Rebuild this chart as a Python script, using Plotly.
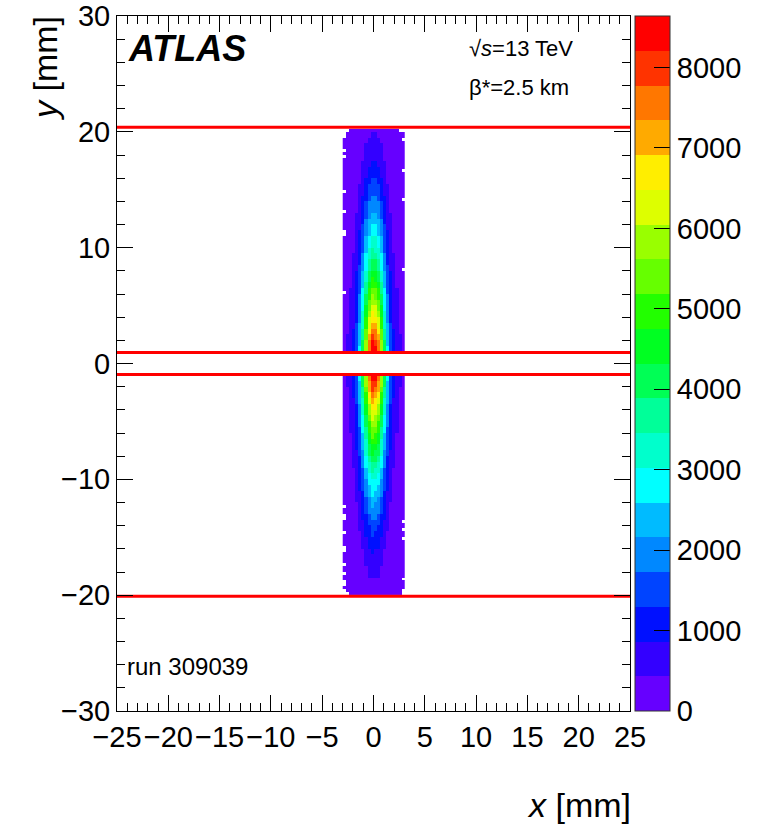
import numpy as np
import plotly.graph_objects as go

# ---------------- data ----------------
# x bins (0.3 mm), bin centres
x_centres = [-2.85, -2.55, -2.25, -1.95, -1.65, -1.35, -1.05, -0.75, -0.45, -0.15,
             0.15, 0.45, 0.75, 1.05, 1.35, 1.65, 1.95, 2.25, 2.55, 2.85]
# relative horizontal profile of the beam spot (per x bin)
x_profile = [0.04, 0.055, 0.08, 0.12, 0.19, 0.31, 0.48, 0.70, 0.89, 1.0,
             0.98, 0.89, 0.70, 0.48, 0.31, 0.19, 0.12, 0.08, 0.055, 0.04]

# y bins of 0.25 mm; peak counts read per 0.5 mm band
y_bin = 0.25
upper_y_start = 1.0          # upper detector: 1.0 .. 20.25 mm
upper_peak = [8600, 8300, 7900, 7500, 7100, 6800, 6500, 6200, 6000, 5700,
              5400, 5100, 4800, 4600, 4300, 4000, 3800, 3500, 3300, 3100,
              2900, 2700, 2500, 2300, 2100, 1950, 1800, 1650, 1500, 1350,
              1200, 1080, 950, 830, 720, 620, 530, 450, 380]
upper_rows = 77
lower_y_start = -20.0        # lower detector: -20.0 .. -1.0 mm
lower_peak = [310, 360, 420, 490, 570, 660, 760, 880, 1000, 1150,
              1300, 1450, 1600, 1800, 2000, 2200, 2400, 2600, 2800, 3000,
              3300, 3500, 3800, 4100, 4400, 4600, 4900, 5200, 5500, 5800,
              6100, 6400, 6700, 7000, 7400, 7800, 8200, 8500]
lower_rows = 76

# empty (zero-count) bins at the ragged edges: (x centre, y centre)
empty_bins = [(-2.85, 20.125), (-2.55, 20.125), (2.55, 20.125), (2.85, 20.125),
              (-2.85, 19.875), (-2.85, 19.625), (2.85, 19.375),
              (-2.85, 18.375), (-2.85, 17.875), (-2.85, 14.875), (-2.85, 13.125),
              (-2.85, 11.375), (-2.85, 11.125), (-2.85, 6.125),
              (2.85, 14.125), (2.85, 8.125), (2.85, 16.625),
              (-2.85, -12.375), (-2.85, -13.125), (-2.85, -13.375), (-2.85, -14.625),
              (-2.85, -15.875), (-2.85, -16.125), (-2.85, -17.375), (-2.85, -18.125),
              (-2.85, -18.875), (-2.85, -19.125), (-2.85, -19.625), (-2.85, -19.875),
              (-2.55, -19.875), (2.85, -13.625), (2.85, -14.375), (2.85, -15.125),
              (2.85, -18.625), (2.85, -19.625), (2.85, -19.875)]

# detector edges (red lines), mm
edge_y = [20.4, 0.95, -0.95, -20.1]

# palette bands (20 contours)
palette = ["#6600ff", "#3300ff", "#0010ff", "#0044ff", "#0088ff", "#00bbff",
           "#00ffff", "#00ffcc", "#00ff99", "#00ff55", "#00ff22", "#22ff00",
           "#66ff00", "#99ff00", "#ddff00", "#ffee00", "#ffaa00", "#ff7700",
           "#ff3300", "#ff0000"]
z_max = 8640
cbar_ticks = [0, 1000, 2000, 3000, 4000, 5000, 6000, 7000, 8000]
x_ticks = [-25, -20, -15, -10, -5, 0, 5, 10, 15, 20, 25]
y_ticks = [-30, -20, -10, 0, 10, 20, 30]

# ---------------- build histogram grid ----------------
n_rows = int(round((upper_y_start + upper_rows * y_bin - lower_y_start) / y_bin))
y_centres = [lower_y_start + (i + 0.5) * y_bin for i in range(n_rows)]
z = np.full((n_rows, len(x_centres)), np.nan)
prof = np.array(x_profile)
for i in range(lower_rows):
    z[i, :] = lower_peak[i // 2] * prof
off = int(round((upper_y_start - lower_y_start) / y_bin))
for i in range(upper_rows):
    z[off + i, :] = upper_peak[i // 2] * prof
for (xe, ye) in empty_bins:
    ci = int(np.argmin(np.abs(np.array(x_centres) - xe)))
    ri = int(np.argmin(np.abs(np.array(y_centres) - ye)))
    z[ri, ci] = np.nan

cs = []
n = len(palette)
for k, c in enumerate(palette):
    cs.append([k / n, c])
    cs.append([(k + 1) / n, c])

W, H = 765, 827
L, R, T, B = 117, 135, 16, 116
pw, ph = W - L - R, H - T - B

fig = go.Figure()
fig.add_trace(go.Heatmap(
    x=x_centres, y=y_centres, z=z, zmin=0, zmax=z_max, colorscale=cs,
    zsmooth=False, hoverongaps=False,
    colorbar=dict(x=1 + 5 / pw, xanchor="left", xpad=0, y=0.5, yanchor="middle",
                  len=1, lenmode="fraction", ypad=0, thickness=35,
                  tickvals=cbar_ticks, ticks="inside", ticklen=16, tickcolor="black",
                  tickfont=dict(size=29, color="black", family="Liberation Sans"),
                  outlinewidth=1, outlinecolor="#333333")))

for yv in edge_y:
    fig.add_trace(go.Scatter(x=[-25, 25], y=[yv, yv], mode="lines",
                             line=dict(color="#ff0000", width=3), showlegend=False,
                             hoverinfo="skip"))

axis_common = dict(showline=True, linecolor="black", linewidth=1, mirror="ticks",
                   ticks="inside", tickcolor="black", showgrid=False, zeroline=False,
                   tickfont=dict(size=29, color="black", family="Liberation Sans"))
fig.update_xaxes(range=[-25, 25], tickvals=x_ticks, ticklen=16,
                 minor=dict(dtick=1, ticklen=8, ticks="inside", tickcolor="black"),
                 **axis_common)
fig.update_yaxes(range=[-30, 30], tickvals=y_ticks, ticklen=16,
                 minor=dict(dtick=2, ticklen=8, ticks="inside", tickcolor="black"),
                 **axis_common)

def px_x(p):
    return (p - L) / pw

def px_y(p):
    return 1 - (p - T) / ph

ann = [
    dict(text="<b><i>ATLAS</i></b>", x=px_x(126), y=px_y(49), xanchor="left",
         yanchor="middle", font=dict(size=36)),
    dict(text="√<i>s</i>=13 TeV", x=px_x(467), y=px_y(49), xanchor="left",
         yanchor="middle", font=dict(size=22)),
    dict(text="β*=2.5 km", x=px_x(467), y=px_y(88), xanchor="left",
         yanchor="middle", font=dict(size=22)),
    dict(text="run 309039", x=px_x(125), y=px_y(666), xanchor="left",
         yanchor="middle", font=dict(size=24)),
    dict(text="<i>x</i> [mm]", x=px_x(633), y=px_y(805), xanchor="right",
         yanchor="middle", font=dict(size=34)),
    dict(text="<i>y</i> [mm]", x=px_x(45), y=px_y(14), xanchor="center",
         yanchor="top", textangle=-90, font=dict(size=34)),
]
for a in ann:
    a.update(xref="paper", yref="paper", showarrow=False)
    a["font"].update(family="Liberation Sans", color="black")

fig.update_layout(width=W, height=H,
                  margin=dict(l=L, r=R, t=T, b=B, autoexpand=False),
                  paper_bgcolor="white", plot_bgcolor="white",
                  font=dict(family="Liberation Sans", color="black"),
                  annotations=ann, showlegend=False)

fig.write_html("out.html", config={"displayModeBar": False},
               post_script="document.body.style.margin='0px';")
